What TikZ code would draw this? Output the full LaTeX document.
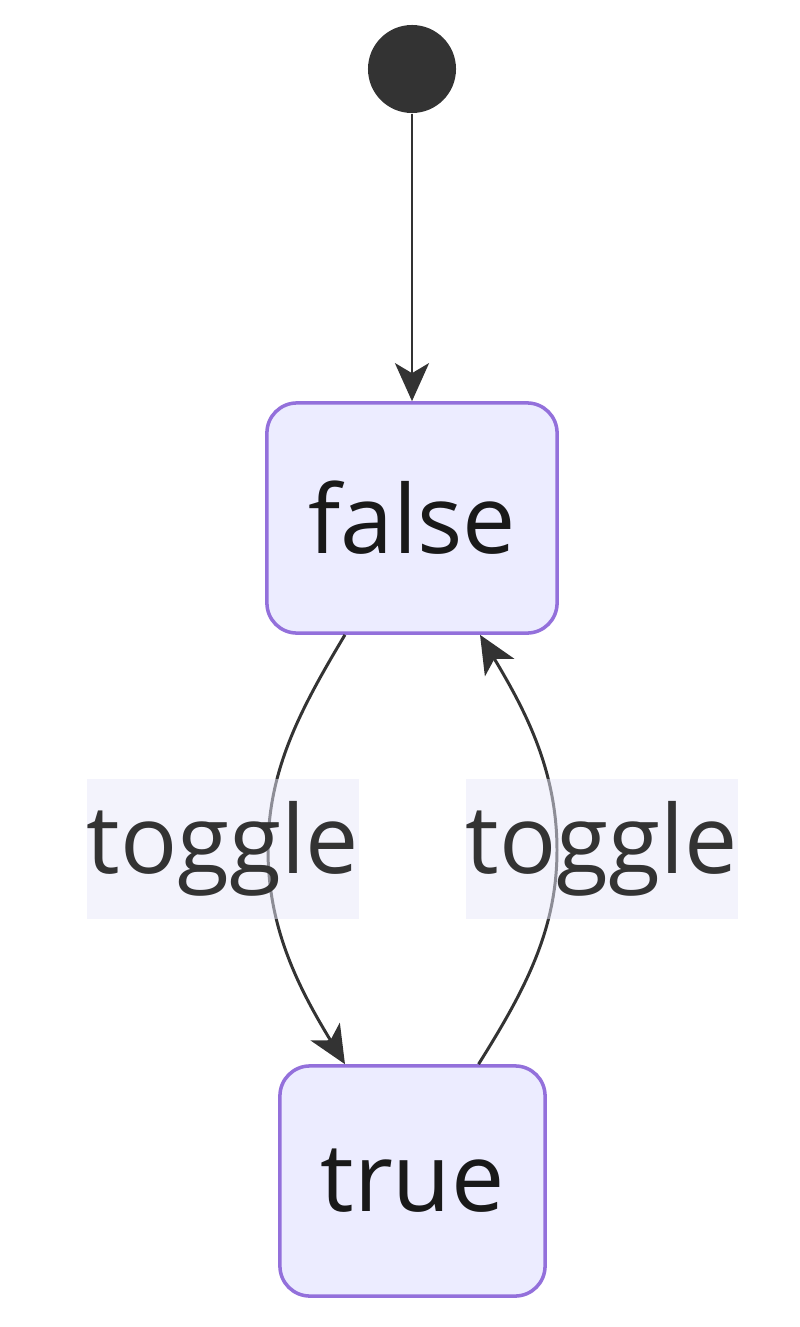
\documentclass[tikz,border=0pt]{standalone}
\usepackage{fontspec}
\setmainfont{Open Sans}
\usetikzlibrary{calc,arrows.meta}
\definecolor{stfill}{HTML}{ECECFF}
\definecolor{stline}{HTML}{9370DB}
\definecolor{ink}{HTML}{333333}
\definecolor{lblbg}{HTML}{E8E8FA}
\begin{document}
\begin{tikzpicture}[x=0.01cm,y=-0.01cm,
  state/.style={draw=stline,fill=stfill,line width=1pt,rounded corners=0.3cm,
    font=\fontsize{27}{30}\selectfont,text=black!90},
  edge/.style={draw=ink,line width=0.85pt,-{Stealth[length=0.38cm,width=0.34cm,inset=0.1cm]}},
  lbl/.style={fill=lblbg,fill opacity=0.5,text opacity=1,text=ink,
    minimum width=2.6cm,minimum height=1.39cm,inner sep=0pt,font=\fontsize{27}{30}\selectfont}
]
  \path[use as bounding box] (0,0) rectangle (800,1327);

  \node[circle,fill=ink,minimum size=0.88cm,inner sep=0pt] (start) at (412,69) {};
  \node[state,minimum width=2.9cm,minimum height=2.3cm] (false) at (412,518) {false};
  \node[state,minimum width=2.65cm,minimum height=2.3cm] (true) at (412.5,1181) {true};

  \draw[edge] (start) -- (false);
  \draw[edge] ([xshift=-0.67cm]false.south) .. controls (300,710) and (268,770) .. (268,850)
    .. controls (268,930) and (300,990) .. ([xshift=-0.675cm]true.north);
  \draw[edge] ([xshift=0.66cm]true.north) .. controls (525,990) and (557,930) .. (557,850)
    .. controls (557,770) and (525,710) .. ([xshift=0.68cm]false.south);

  \node[lbl] (lblA) at (223,849) {toggle};
  \node[lbl] (lblB) at (602,849) {toggle};
\end{tikzpicture}
\end{document}
